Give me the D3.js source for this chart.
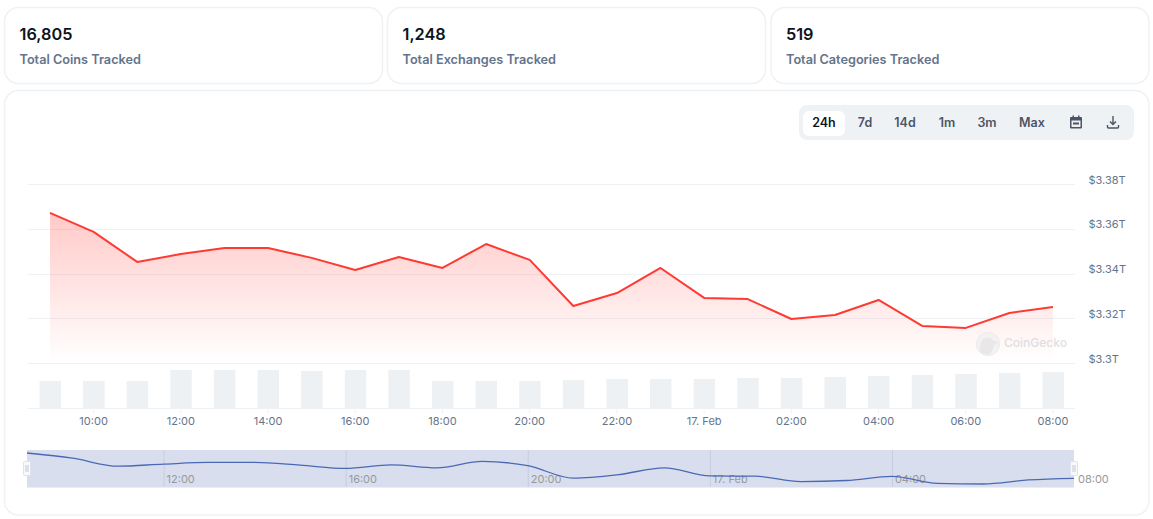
<!DOCTYPE html>
<html>
<head>
<meta charset="utf-8">
<script src="https://cdn.jsdelivr.net/npm/d3@7"></script>
<style>
  html, body { margin: 0; padding: 0; background: #fff; overflow: hidden; }
  svg { display: block; font-family: Inter, "Noto Sans", sans-serif; }
</style>
</head>
<body>
<svg width="1153" height="519"></svg>
<script>
const hours = ['09:00','10:00','11:00','12:00','13:00','14:00','15:00','16:00','17:00','18:00','19:00','20:00',
    '21:00','22:00','23:00','17. Feb','01:00','02:00','03:00','04:00','05:00','06:00','07:00','08:00'];
// total market cap, $T
const marketCap = [3.3673,3.3588,3.3454,3.3489,3.3516,3.3516,3.3472,3.3418,3.3476,3.3427,3.3534,3.3463,
    3.3257,3.3315,3.3427,3.3293,3.3288,3.3199,3.3217,3.3284,3.3168,3.3159,3.3226,3.3253];
// volume, $B
const volume = [135,135,135,190,190,190,185,190,190,135,135,135,
    140,145,145,145,150,150,155,160,165,170,175,180];
const capTicks = [3.3,3.32,3.34,3.36,3.38];
const timeTicks = ['10:00','12:00','14:00','16:00','18:00','20:00','22:00','17. Feb','02:00','04:00','06:00','08:00'];
const navTicks = ['12:00','16:00','20:00','17. Feb','04:00','08:00'];
const statValues = ['16,805','1,248','519'];
const statLabels = ['Total Coins Tracked','Total Exchanges Tracked','Total Categories Tracked'];
const ranges = ['24h','7d','14d','1m','3m','Max'];

const svg = d3.select('svg');
const plotLeft = 28, plotRight = 1075;

// cards
const cardX = d3.scaleOrdinal().domain(statValues).range([4.5, 387.5, 771]);
const stat = svg.selectAll('g.stat').data(statValues).join('g')
    .attr('class', 'stat')
    .attr('transform', d => `translate(${cardX(d)},7.5)`);
stat.append('rect')
    .attr('width', 378).attr('height', 76).attr('rx', 14)
    .attr('fill', '#fff').attr('stroke', '#eff2f5').attr('stroke-width', 1.5);
stat.append('text')
    .attr('x', 15).attr('y', 32.5)
    .attr('font-size', 16.3).attr('font-weight', 600).attr('fill', '#0d1421')
    .text(d => d);
stat.append('text')
    .attr('x', 15).attr('y', 56.5)
    .attr('font-size', 12.7).attr('font-weight', 600).attr('fill', '#64748b')
    .text((d, i) => statLabels[i]);

svg.append('rect')
    .attr('x', 4.5).attr('y', 90.5).attr('width', 1144.5).attr('height', 424.5).attr('rx', 14)
    .attr('fill', '#fff').attr('stroke', '#eff2f5').attr('stroke-width', 1.5);

// range buttons
svg.append('rect').attr('x', 799).attr('y', 105).attr('width', 335).attr('height', 35).attr('rx', 8).attr('fill', '#eff2f5');
svg.append('rect').attr('x', 803).attr('y', 111).attr('width', 42).attr('height', 25).attr('rx', 6).attr('fill', '#fff');
const rangeX = d3.scaleOrdinal().domain(ranges).range([824, 865, 905, 947, 987, 1032]);
svg.selectAll('text.range').data(ranges).join('text')
    .attr('class', 'range')
    .attr('x', d => rangeX(d)).attr('y', 127)
    .attr('text-anchor', 'middle')
    .attr('font-size', 12.5).attr('font-weight', 600)
    .attr('fill', d => d === '24h' ? '#0d1421' : '#4b5565')
    .text(d => d);

// calendar icon
const cal = svg.append('g').attr('transform', 'translate(1076,122.5)').attr('fill', '#4b5565');
cal.append('path').attr('fill-rule', 'evenodd')
    .attr('d', 'M-6,-4.5a1,1 0 0 1 1,-1h1.5v-1.5h1.5v1.5h4v-1.5h1.5v1.5h1.5a1,1 0 0 1 1,1v9.5a1,1 0 0 1 -1,1h-10a1,1 0 0 1 -1,-1zM-4.5,-2v6.5h9v-6.5zM-3,0h6v2h-6z');
// download icon
const dl = svg.append('g').attr('transform', 'translate(1113,122.5)')
    .attr('fill', 'none').attr('stroke', '#4b5565').attr('stroke-width', 1.4);
dl.append('path').attr('d', 'M0,-6.5v8M-3,-1l3,3l3,-3');
dl.append('path').attr('d', 'M-5.5,2.5v2a1,1 0 0 0 1,1h9a1,1 0 0 0 1,-1v-2');

// scales
const x = d3.scalePoint().domain(hours).range([50, 1053]);
const y = d3.scaleLinear().domain([3.3, 3.38]).range([363.5, 184.5]);
const yVol = d3.scaleLinear().domain([0, 190]).range([408, 370]);
const xNav = d3.scalePoint().domain(hours).range([27, 1074]);
const yNav = d3.scaleLinear().domain(d3.extent(marketCap)).range([484, 453]);

// grid + y labels
const yAxis = svg.append('g')
    .attr('transform', `translate(${plotRight},0)`)
    .call(d3.axisRight(y).tickValues(capTicks).tickSize(0).tickPadding(14)
        .tickFormat(d => '$' + d3.format('~g')(d) + 'T'));
yAxis.select('.domain').remove();
yAxis.selectAll('text')
    .attr('dy', -1.5).attr('x', 13.5).attr('font-size', 11).attr('font-family', 'Inter').attr('fill', '#64748b');
svg.append('g').selectAll('line').data(capTicks).join('line')
    .attr('x1', plotLeft).attr('x2', plotRight)
    .attr('y1', d => Math.floor(y(d)) + 0.5).attr('y2', d => Math.floor(y(d)) + 0.5)
    .attr('stroke', '#eff2f5').attr('stroke-width', 1);

// area gradient
const grad = svg.append('defs').append('linearGradient')
    .attr('id', 'capFill').attr('x1', 0).attr('x2', 0).attr('y1', 0).attr('y2', 1);
grad.append('stop').attr('offset', 0).attr('stop-color', '#ff3a33').attr('stop-opacity', 0.27);
grad.append('stop').attr('offset', 1).attr('stop-color', '#ff3a33').attr('stop-opacity', 0);

svg.append('path').datum(marketCap)
    .attr('fill', 'url(#capFill)')
    .attr('d', d3.area().x((d, i) => x(hours[i])).y0(362).y1(d => y(d)));

// watermark
const mark = svg.append('g').attr('opacity', 0.75);
mark.append('circle').attr('cx', 988).attr('cy', 344).attr('r', 11.5)
    .attr('fill', '#f0f0f0').attr('stroke', '#e6e6e6').attr('stroke-width', 1);
mark.append('path').attr('fill', '#e2e2e2')
    .attr('d', 'M980,352c0,-8 1,-13 6,-14c4,-1 6,1 8,3c3,0 4,1 4,2c-2,1 -3,1 -4,2c0,3 -2,6 -4,9c-4,1 -8,0 -10,-2z');
mark.append('text').attr('x', 1004).attr('y', 347)
    .attr('font-size', 12).attr('font-weight', 500).attr('fill', '#d4d6da').text('CoinGecko');

svg.append('path').datum(marketCap)
    .attr('fill', 'none').attr('stroke', '#ff3a33').attr('stroke-width', 2).attr('stroke-linejoin', 'round')
    .attr('d', d3.line().x((d, i) => x(hours[i])).y(d => y(d)));

// volume bars
svg.append('g').selectAll('rect').data(volume).join('rect')
    .attr('x', (d, i) => x(hours[i]) - 10.5)
    .attr('width', 21.5)
    .attr('y', d => yVol(d))
    .attr('height', d => yVol(0) - yVol(d))
    .attr('fill', '#eef1f4');

// x axis
const xAxis = svg.append('g')
    .attr('transform', 'translate(0,408.5)')
    .call(d3.axisBottom(x).offset(0).tickValues(timeTicks).tickSize(5).tickPadding(4).tickSizeOuter(0));
xAxis.select('.domain').attr('d', `M${plotLeft},0H${plotRight}`).attr('stroke', '#eff2f5');
xAxis.selectAll('line').attr('stroke', '#eff2f5');
xAxis.selectAll('text').attr('font-size', 11).attr('font-family', 'Inter').attr('fill', '#64748b');

// navigator
svg.append('rect').attr('x', 27).attr('y', 450).attr('width', 1047).attr('height', 37.5).attr('fill', '#d8deee');
const nav = svg.append('g').selectAll('g').data(navTicks).join('g')
    .attr('transform', d => `translate(${xNav(d)},0)`);
nav.filter(d => d !== '08:00').append('line')
    .attr('x1', 0.5).attr('x2', 0.5).attr('y1', 450).attr('y2', 487)
    .attr('stroke', '#c6cde0');
nav.append('text')
    .attr('x', d => d === '08:00' ? 4 : 3).attr('y', 483)
    .attr('font-size', 11).attr('fill', '#999')
    .text(d => d);
svg.append('path').datum(marketCap)
    .attr('fill', 'none').attr('stroke', '#4a69b5').attr('stroke-width', 1.3)
    .attr('d', d3.line().x((d, i) => xNav(hours[i])).y(d => yNav(d)).curve(d3.curveMonotoneX));

// navigator handles
svg.append('g').selectAll('g').data([hours[0], hours[23]]).join('g')
    .attr('transform', d => `translate(${xNav(d)},468.5)`)
    .call(h => h.append('rect')
        .attr('x', -3.5).attr('y', -7).attr('width', 7).attr('height', 14).attr('rx', 1)
        .attr('fill', '#f8f9fc').attr('stroke', '#dfe3ee'))
    .call(h => h.append('path')
        .attr('d', 'M-1,-3.5v7M1,-3.5v7').attr('stroke', '#c4c9d6').attr('fill', 'none'));
</script>
</body>
</html>
